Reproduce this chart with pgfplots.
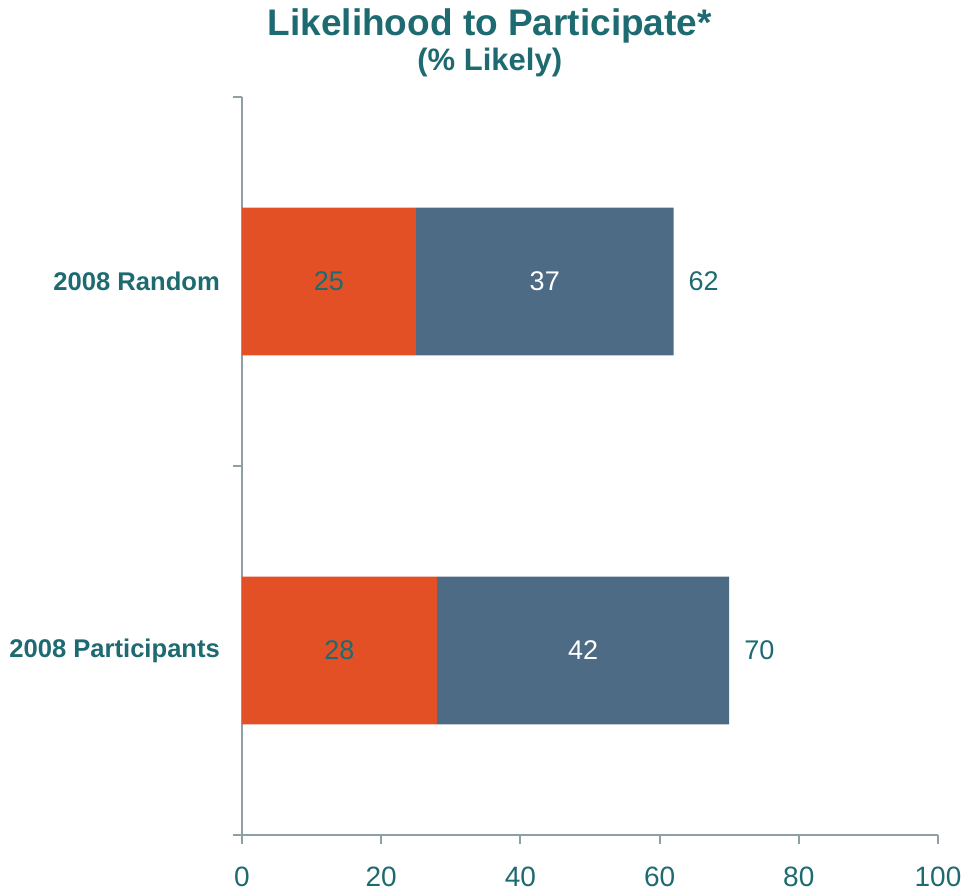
\documentclass[border=0pt]{standalone}
\usepackage{pgfplots}
\pgfplotsset{compat=1.18}
\usepackage{fontspec}
\setmainfont{Liberation Sans}
\definecolor{orng}{HTML}{E35026}
\definecolor{slate}{HTML}{4D6B85}
\definecolor{teal1}{HTML}{1D6A70}
\definecolor{axgray}{HTML}{8FA0A5}
\begin{document}
\begin{tikzpicture}
\useasboundingbox (-121pt,-28.5pt) rectangle (361pt,417.5pt);
\begin{axis}[
  at={(0,0)}, anchor=south west,
  scale only axis, width=348pt, height=369pt,
  xbar stacked, bar width=0.4,
  xmin=0, xmax=100, ymin=-0.5, ymax=1.5,
  axis lines*=left,
  axis line style={axgray, line width=1pt},
  xtick={0,20,40,60,80,100},
  ytick={-0.5,0.5,1.5}, yticklabels={},
  tick align=outside,
  major tick length=4.5pt,
  tick style={axgray, line width=1pt},
  extra y ticks={0,1},
  extra y tick labels={2008 Participants,2008 Random},
  extra y tick style={major tick length=0pt, yticklabel style={font=\fontsize{12.8}{15}\selectfont\bfseries, text=teal1, xshift=-7.5pt}},
  /pgf/number format/assume math mode=true,
  xticklabel style={font=\fontsize{14}{16}\selectfont, text=teal1, yshift=-8pt},
  title={Likelihood to Participate*\\[-2.5pt]{\fontsize{15.5}{17}\selectfont (\% Likely)}},
  title style={font=\fontsize{18.5}{20}\selectfont\bfseries, text=teal1, align=center, at={(0.356,1)}, anchor=south, yshift=0.5pt},
  clip=false,
]
\addplot[fill=orng, draw=none, nodes near coords, point meta=rawx,
  every node near coord/.style={anchor=center, text=teal1, font=\fontsize{13.5}{15}\selectfont}]
  coordinates {(25,1) (28,0)};
\addplot[fill=slate, draw=none, nodes near coords, point meta=rawx,
  every node near coord/.style={anchor=center, text=white, font=\fontsize{13.5}{15}\selectfont}]
  coordinates {(37,1) (42,0)};
\end{axis}
\begin{axis}[
  at={(0,0)}, anchor=south west,
  scale only axis, width=348pt, height=369pt,
  xmin=0, xmax=100, ymin=-0.5, ymax=1.5,
  hide axis, clip=false,
]
\addplot[only marks, mark=none, nodes near coords, point meta=explicit symbolic,
  every node near coord/.style={anchor=west, xshift=4pt, text=teal1, font=\fontsize{13.5}{15}\selectfont}]
  coordinates {(62,1) [62] (70,0) [70]};
\end{axis}
\end{tikzpicture}
\end{document}
